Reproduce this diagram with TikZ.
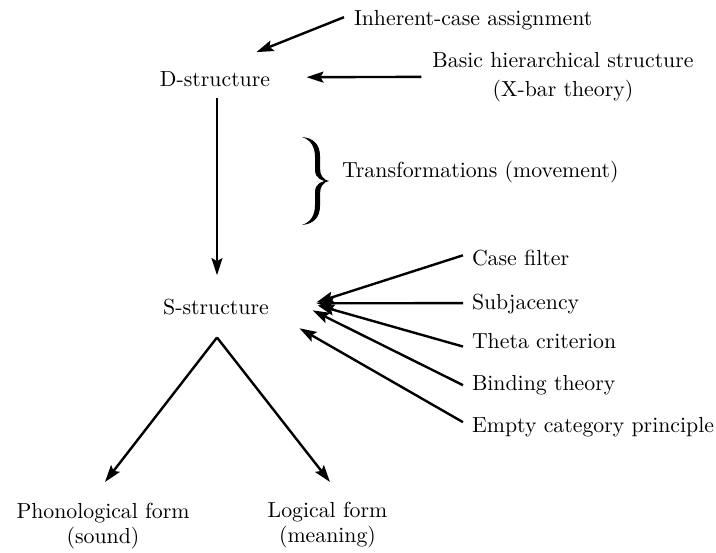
\documentclass[tikz,border=0pt]{standalone}
\usepackage{fontspec}
\setmainfont{lmroman10-regular.otf}
\usetikzlibrary{arrows.meta}
\begin{document}
\begin{tikzpicture}[x=1pt,y=-1pt,
  lbl/.style={inner sep=0pt, outer sep=0pt, font=\fontsize{21.8}{25}\selectfont},
  arr/.style={line width=2.4pt, -{Stealth[length=17pt,width=11pt,inset=3pt]}},
]
\useasboundingbox (0,0) rectangle (716,553);

% main nodes
\node[lbl, anchor=base] (D) at (215,87) {D-structure};
\node[lbl, anchor=base] (S) at (216,315) {S-structure};
\node[lbl, anchor=north, align=center] (phon) at (103,502.7) {Phonological form\\(sound)};
\node[lbl, anchor=north, align=center] (log) at (327.5,501.7) {Logical form\\(meaning)};

% upper labels
\node[lbl, anchor=base west] (inh) at (354,26) {Inherent-case assignment};
\node[lbl, anchor=north, align=center, font=\fontsize{21.8}{29}\selectfont] (basic) at (563,52.7)
  {Basic hierarchical structure\\(X-bar theory)};
\node[lbl, anchor=base west] (trans) at (342,178) {Transformations (movement)};

% right labels
\node[lbl, anchor=base west] (case) at (472,266) {Case filter};
\node[lbl, anchor=base west] (subj) at (472,310) {Subjacency};
\node[lbl, anchor=base west] (theta) at (472,349) {Theta criterion};
\node[lbl, anchor=base west] (bind) at (472,391) {Binding theory};
\node[lbl, anchor=base west] (ecp) at (472,433) {Empty category principle};

% brace
\fill (302,137) .. controls (313,138) and (320,144) .. (320,156) -- (320,168)
  .. controls (320,175) and (323,180) .. (329,181)
  .. controls (322,182) and (315,178) .. (315,170) -- (315,157)
  .. controls (315,147) and (311,140) .. (302,137) -- cycle;
\fill (302,225) .. controls (313,224) and (320,218) .. (320,206) -- (320,194)
  .. controls (320,187) and (323,182) .. (329,181)
  .. controls (322,180) and (315,184) .. (315,192) -- (315,205)
  .. controls (315,215) and (311,222) .. (302,225) -- cycle;

% arrows into D-structure
\draw[arr] ([shift={(-10,-3.5)}]inh.west) -- ([shift={(-13.6,-20)}]D.north east);
\draw[arr] ([shift={(-11,-0.6)}]basic.west) -- ([shift={(36.4,-2.5)}]D.east);
\draw[arr] ([shift={(2,11)}]D.south) -- ([shift={(1,-24.5)}]S.north);

% arrows into S-structure
\draw[arr] ([shift={(-9,-3.25)}]case.west) -- ([shift={(47.7,-5.25)}]S.east);
\draw[arr] ([shift={(-9,-1.4)}]subj.west) -- ([shift={(47.7,-4.25)}]S.east);
\draw[arr] ([shift={(-9,5)}]theta.west) -- ([shift={(48.7,-2.25)}]S.east);
\draw[arr] ([shift={(-9,-0.5)}]bind.west) -- ([shift={(43.7,2.75)}]S.east);
\draw[arr] ([shift={(-9,-5.5)}]ecp.west) -- ([shift={(30.7,20.75)}]S.east);

% split to PF and LF
\coordinate (apex) at ([shift={(1,22)}]S.south);
\draw[arr] (apex) -- ([shift={(2,-20.7)}]phon.north);
\draw[arr] (apex) -- ([shift={(2.5,-19.7)}]log.north);
\end{tikzpicture}
\end{document}
